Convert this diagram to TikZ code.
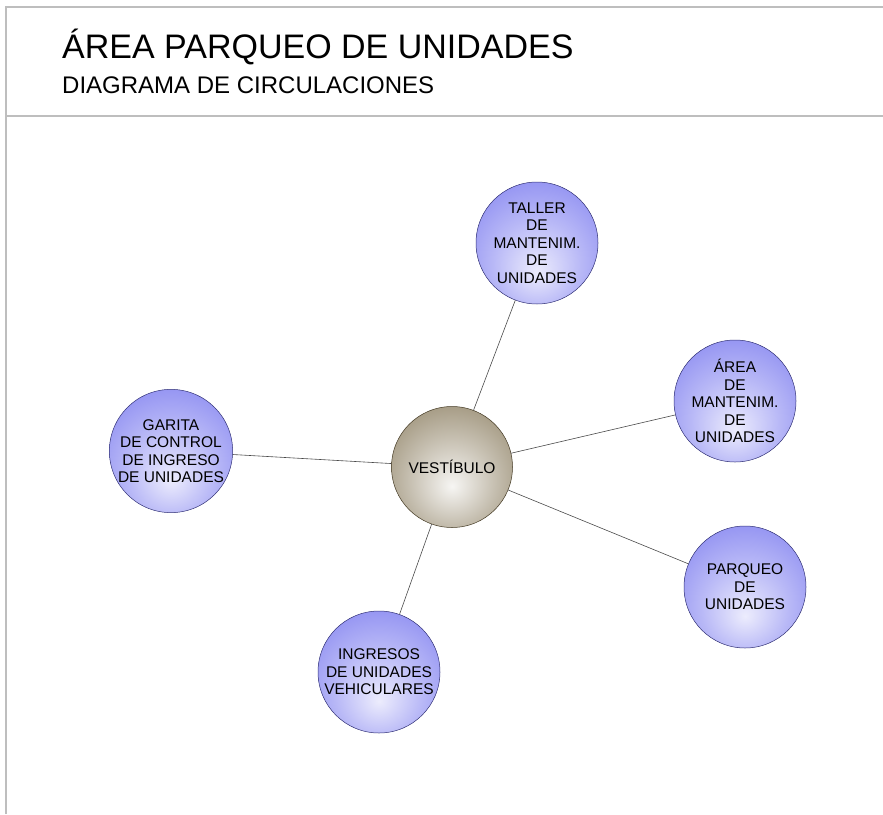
\documentclass[tikz,border=0pt]{standalone}
\usepackage{fontspec}
\setmainfont{Liberation Sans}
\definecolor{ballblue}{HTML}{6262EC}
\definecolor{ballbrown}{HTML}{6E5D38}
\definecolor{framegray}{HTML}{BEBEBE}
\definecolor{linkgray}{HTML}{4A4A4A}
\pgfdeclareradialshading{blueball}{\pgfpoint{0bp}{-12bp}}{color(0bp)=(ballblue!12!white); color(18bp)=(ballblue!45!white); color(38bp)=(ballblue!78!white); color(62bp)=(ballblue)}
\pgfdeclareradialshading{brownball}{\pgfpoint{0bp}{-8bp}}{color(0bp)=(ballbrown!6!white); color(18bp)=(ballbrown!40!white); color(40bp)=(ballbrown!80!white); color(60bp)=(ballbrown)}

\begin{document}
\begin{tikzpicture}[
    x=1pt,y=-1pt,
    font=\fontsize{15.5}{17.5}\selectfont,
    room/.style={circle,draw=ballblue!50!black,line width=0.5pt,shading=blueball,minimum size=122pt,inner sep=0pt,align=center},
    hub/.style={circle,draw=ballbrown!60!black,line width=0.5pt,shading=brownball,minimum size=121pt,inner sep=0pt,align=center},
    link/.style={draw=linkgray,line width=0.6pt}
  ]
    \useasboundingbox (0,0) rectangle (883,814);
    % marco y encabezado
    \draw[framegray,line width=1.5pt] (6,814) -- (6,7) -- (883,7);
    \draw[framegray,line width=1.5pt] (6,116) -- (883,116);
    \node[anchor=base west,inner sep=0pt,font=\fontsize{34}{40}\selectfont] (titulo) at (62,58) {ÁREA PARQUEO DE UNIDADES};
    \node[anchor=base west,inner sep=0pt,font=\fontsize{24}{28}\selectfont] (subtitulo) at (62,93) {DIAGRAMA DE CIRCULACIONES};
    % espacios
    \node[hub] (vest) at (452,467) {VESTÍBULO};
    \node[room] (taller) at (537,243) {TALLER\\DE\\MANTENIM.\\DE\\UNIDADES};
    \node[room] (area) at (735,401) {ÁREA\\DE\\MANTENIM.\\DE\\UNIDADES};
    \node[room] (garita) at (171,451) {GARITA\\DE CONTROL\\DE INGRESO\\DE UNIDADES};
    \node[room] (parqueo) at (745,587) {PARQUEO\\DE\\UNIDADES};
    \node[room] (ingresos) at (379,672) {INGRESOS\\DE UNIDADES\\VEHICULARES};
    \foreach \b in {taller,area,garita,parqueo,ingresos}
      \draw[link] (vest) -- (\b);
  \end{tikzpicture}
\end{document}
